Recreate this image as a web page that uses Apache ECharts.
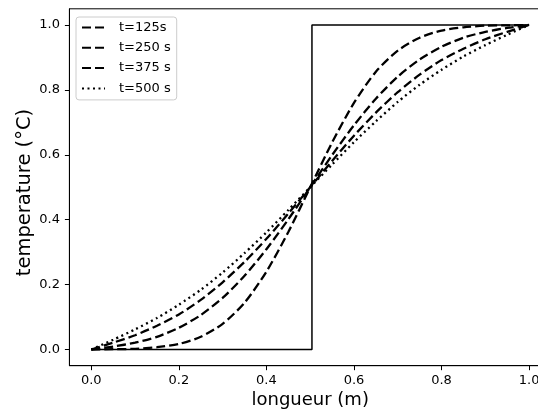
<!DOCTYPE html>
<html>
<head>
<meta charset="utf-8">
<script src="https://cdn.jsdelivr.net/npm/echarts@6/dist/echarts.min.js"></script>
<style>
html,body{margin:0;padding:0;background:#fff;}
#c{width:538px;height:414px;}
</style>
</head>
<body>
<div id="c"></div>
<script>
// positions along the bar (m)
const xPos = [0, 0.05, 0.10, 0.15, 0.20, 0.25, 0.30, 0.35, 0.40, 0.45, 0.50,
              0.55, 0.60, 0.65, 0.70, 0.75, 0.80, 0.85, 0.90, 0.95, 1.00];
// temperature profiles
const t125 = [0, 0.001, 0.002, 0.007, 0.017, 0.039, 0.079, 0.144, 0.240, 0.362, 0.5,
              0.638, 0.760, 0.856, 0.921, 0.961, 0.983, 0.993, 0.998, 0.999, 1];
const t250 = [0, 0.009, 0.021, 0.039, 0.067, 0.106, 0.159, 0.227, 0.309, 0.401, 0.5,
              0.599, 0.691, 0.773, 0.841, 0.894, 0.933, 0.961, 0.979, 0.991, 1];
const t375 = [0, 0.021, 0.044, 0.073, 0.108, 0.153, 0.207, 0.270, 0.341, 0.419, 0.5,
              0.581, 0.659, 0.730, 0.793, 0.847, 0.892, 0.927, 0.956, 0.979, 1];
const t500 = [0, 0.030, 0.062, 0.097, 0.138, 0.184, 0.237, 0.297, 0.361, 0.430, 0.5,
              0.570, 0.639, 0.703, 0.763, 0.816, 0.862, 0.903, 0.938, 0.970, 1];
// initial step profile
const stepX = [0, 0.504, 0.504, 1];
const stepU = [0, 0, 1, 1];
// labels
const seriesNames = ['t=125s', 't=250 s', 't=375 s', 't=500 s'];
const xTicks = [0, 0.2, 0.4, 0.6, 0.8, 1.0];
const yTicks = [0, 0.2, 0.4, 0.6, 0.8, 1.0];
const xTitle = 'longueur (m)';
const yTitle = 'temperature (°C)';

const zip = (xs, ys) => xs.map((x, i) => [x, ys[i]]);
const FONT = 'DejaVu Sans';
const dash = [9, 4];
const dot = [2, 3.5];

const chart = echarts.init(document.getElementById('c'), null, {renderer: 'canvas'});
const lineSeries = (name, data, type) => ({
  name, type: 'line', data: zip(xPos, data), symbol: 'none', showSymbol: false,
  smooth: 0.25,
  itemStyle: {color: '#000'},
  lineStyle: {color: '#000', width: 2.3, type: type, cap: 'butt'},
  z: 3
});
chart.setOption({
  animation: false,
  backgroundColor: '#fff',
  textStyle: {fontFamily: FONT},
  grid: {left: 69.4, top: 8.8, width: 481.6, height: 356.9, show: true,
         outerBoundsMode: 'none', containLabel: false,
         borderColor: '#000', borderWidth: 1, backgroundColor: 'transparent'},
  legend: {
    data: seriesNames, orient: 'vertical', left: 76, top: 17,
    itemWidth: 23, itemHeight: 14, itemGap: 6.3,
    padding: [3.5, 6, 4.5, 5],
    backgroundColor: 'rgba(255,255,255,0.8)', borderColor: '#cccccc',
    borderWidth: 1, borderRadius: 3,
    itemStyle: {color: 'transparent', borderWidth: 0, opacity: 0},
    lineStyle: {color: '#000'},
    textStyle: {fontFamily: FONT, fontSize: 13, color: '#000', lineHeight: 14, padding: [0, 0, 0, 9]}
  },
  graphic: [{
    type: 'text', x: 25, y: 192.5, rotation: Math.PI / 2,
    style: {text: yTitle, fontFamily: FONT, fontSize: 19.5, fill: '#000',
            align: 'center', verticalAlign: 'middle'}
  }],
  xAxis: {
    type: 'value', min: -0.05, max: 1.05,
    name: xTitle, nameLocation: 'middle', nameGap: 24,
    nameTextStyle: {fontFamily: FONT, fontSize: 18, color: '#000'},
    axisLine: {show: true, onZero: false, lineStyle: {color: '#000', width: 1}},
    axisTick: {show: true, length: 4.5, customValues: xTicks, lineStyle: {color: '#000', width: 1}},
    axisLabel: {customValues: xTicks, formatter: v => v.toFixed(1), margin: 8,
                fontFamily: FONT, fontSize: 13, color: '#000'},
    splitLine: {show: false}
  },
  yAxis: {
    type: 'value', min: -0.05, max: 1.05,
    axisLine: {show: true, onZero: false, lineStyle: {color: '#000', width: 1}},
    axisTick: {show: true, length: 4.5, customValues: yTicks, lineStyle: {color: '#000', width: 1}},
    axisLabel: {customValues: yTicks, formatter: v => v.toFixed(1), margin: 9.5,
                fontFamily: FONT, fontSize: 13, color: '#000'},
    splitLine: {show: false}
  },
  series: [
    {name: 't=0', type: 'line', data: zip(stepX, stepU), symbol: 'none',
     itemStyle: {color: '#000'},
     lineStyle: {color: '#000', width: 1.5}, z: 2},
    lineSeries(seriesNames[0], t125, dash),
    lineSeries(seriesNames[1], t250, dash),
    lineSeries(seriesNames[2], t375, dash),
    lineSeries(seriesNames[3], t500, dot)
  ]
});
</script>
</body>
</html>
